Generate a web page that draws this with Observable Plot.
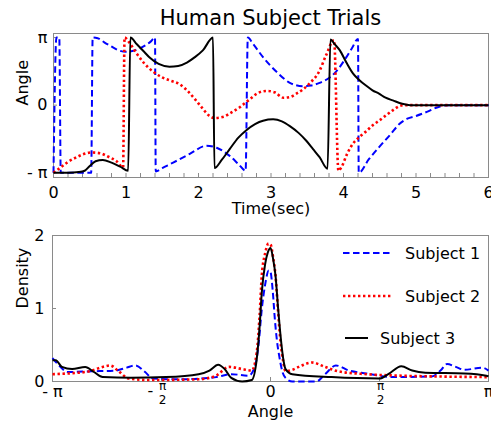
<!DOCTYPE html>
<html><head><meta charset="utf-8">
<script src="https://cdn.jsdelivr.net/npm/d3@7"></script>
<script src="https://cdn.jsdelivr.net/npm/@observablehq/plot@0.6"></script>
<style>
body{margin:0;background:#fff;font-family:"DejaVu Sans",sans-serif;}
#wrap{position:relative;width:491px;height:428px;overflow:hidden;}
#title{position:absolute;left:53px;width:435px;top:3px;text-align:center;font-size:21px;line-height:30px;color:#000;}
#top{position:absolute;left:0;top:0;}
#bot{position:absolute;left:0;top:220px;}
#leg{position:absolute;left:0;top:0;}
</style>
</head><body>
<div id="wrap"><div id="top"></div><div id="bot"></div><div id="title">Human Subject Trials</div><svg id="leg" width="491" height="428"></svg></div>
<script>
// ---- data (angles in units of π) ----
const seriesNames = ["Subject 1", "Subject 2", "Subject 3"];
const seriesColors = ["#0000ff", "#ff0000", "#000000"];

// Top panel: time (sec), angle/π
const subject1Trial = [[0.00,-1.0],[0.04,1.0],[0.08,1.0],[0.10,-1.0],[0.30,-1.0],[0.52,-1.0],[0.54,1.0],[0.61,0.99],[0.70,0.93],[0.78,0.88],[0.90,0.81],[1.00,0.79],[1.12,0.81],[1.26,0.88],[1.34,0.94],[1.40,1.0],[1.41,-0.98],[1.50,-0.93],[1.65,-0.85],[1.88,-0.72],[2.11,-0.60],[2.25,-0.63],[2.43,-0.75],[2.55,-0.87],[2.65,-0.97],[2.68,1.0],[2.75,0.91],[2.89,0.71],[3.08,0.49],[3.26,0.33],[3.44,0.28],[3.55,0.29],[3.67,0.33],[3.81,0.41],[3.90,0.50],[4.04,0.71],[4.12,0.85],[4.20,0.98],[4.21,-1.0],[4.35,-0.80],[4.50,-0.61],[4.65,-0.43],[4.77,-0.28],[4.88,-0.20],[5.00,-0.16],[5.15,-0.10],[5.30,-0.03],[5.45,0.0],[6.00,0.0]];
const subject2Trial = [[0.00,-1.0],[0.10,-0.92],[0.20,-0.84],[0.30,-0.78],[0.40,-0.73],[0.52,-0.70],[0.64,-0.71],[0.75,-0.76],[0.87,-0.83],[0.96,-0.92],[0.98,1.0],[1.05,0.92],[1.15,0.76],[1.25,0.62],[1.38,0.49],[1.50,0.41],[1.62,0.36],[1.74,0.31],[1.85,0.21],[1.95,0.09],[2.05,-0.04],[2.14,-0.15],[2.22,-0.19],[2.35,-0.17],[2.45,-0.11],[2.57,-0.03],[2.71,0.09],[2.82,0.18],[2.94,0.21],[3.05,0.19],[3.17,0.11],[3.26,0.12],[3.35,0.17],[3.45,0.24],[3.53,0.32],[3.67,0.51],[3.76,0.74],[3.87,0.96],[3.93,-0.97],[3.97,-0.92],[4.05,-0.72],[4.13,-0.57],[4.22,-0.47],[4.31,-0.39],[4.40,-0.30],[4.49,-0.23],[4.60,-0.14],[4.70,-0.06],[4.78,-0.01],[4.85,0.0],[6.00,0.0]];
const subject3Trial = [[0.00,-1.0],[0.20,-1.0],[0.35,-0.99],[0.43,-0.97],[0.50,-0.90],[0.58,-0.83],[0.68,-0.81],[0.80,-0.85],[0.92,-0.91],[1.03,-0.97],[1.06,1.0],[1.15,0.90],[1.25,0.79],[1.33,0.70],[1.45,0.61],[1.60,0.57],[1.72,0.58],[1.84,0.63],[1.95,0.71],[2.06,0.81],[2.20,1.0],[2.22,-0.93],[2.32,-0.81],[2.43,-0.65],[2.55,-0.48],[2.66,-0.37],[2.78,-0.28],[2.89,-0.23],[3.03,-0.21],[3.15,-0.24],[3.26,-0.31],[3.38,-0.41],[3.49,-0.53],[3.58,-0.65],[3.67,-0.77],[3.78,-0.94],[3.82,0.97],[3.88,0.90],[3.95,0.81],[4.04,0.63],[4.13,0.47],[4.22,0.37],[4.31,0.29],[4.40,0.22],[4.49,0.17],[4.58,0.11],[4.68,0.07],[4.81,0.02],[4.92,0.0],[6.00,0.0]];

// Bottom panel: angle/π, density
const subject1Density = [[-1.0,0.32],[-0.97,0.22],[-0.93,0.13],[-0.82,0.14],[-0.71,0.15],[-0.66,0.19],[-0.62,0.22],[-0.575,0.13],[-0.54,0.04],[-0.41,0.03],[-0.25,0.06],[-0.18,0.10],[-0.10,0.08],[-0.07,0.22],[-0.055,0.5],[-0.04,0.99],[-0.025,1.32],[-0.008,1.52],[0.0,1.50],[0.01,1.25],[0.02,0.85],[0.03,0.55],[0.04,0.35],[0.055,0.13],[0.069,0.05],[0.10,0.0],[0.21,0.0],[0.25,0.10],[0.30,0.22],[0.36,0.15],[0.44,0.11],[0.56,0.06],[0.74,0.07],[0.78,0.15],[0.81,0.24],[0.85,0.20],[0.89,0.16],[0.97,0.19],[1.0,0.15]];
const subject2Density = [[-1.0,0.10],[-0.93,0.11],[-0.83,0.14],[-0.77,0.20],[-0.735,0.22],[-0.70,0.15],[-0.65,0.04],[-0.56,0.02],[-0.33,0.03],[-0.25,0.08],[-0.19,0.20],[-0.13,0.17],[-0.086,0.15],[-0.063,0.40],[-0.05,0.90],[-0.04,1.45],[-0.025,1.75],[-0.009,1.89],[0.0,1.88],[0.012,1.70],[0.023,1.45],[0.035,0.95],[0.046,0.54],[0.058,0.28],[0.069,0.14],[0.10,0.16],[0.13,0.20],[0.19,0.26],[0.25,0.20],[0.31,0.14],[0.44,0.10],[0.59,0.08],[0.74,0.07],[1.0,0.06]];
const subject3Density = [[-1.0,0.29],[-0.985,0.29],[-0.957,0.20],[-0.91,0.17],[-0.85,0.20],[-0.81,0.13],[-0.77,0.06],[-0.64,0.05],[-0.48,0.06],[-0.33,0.10],[-0.28,0.15],[-0.24,0.23],[-0.21,0.17],[-0.18,0.05],[-0.13,0.0],[-0.086,0.02],[-0.063,0.31],[-0.05,0.75],[-0.04,1.22],[-0.025,1.60],[-0.012,1.77],[0.0,1.83],[0.012,1.68],[0.023,1.45],[0.035,1.00],[0.046,0.63],[0.058,0.32],[0.069,0.17],[0.10,0.10],[0.28,0.06],[0.50,0.04],[0.54,0.10],[0.60,0.21],[0.65,0.15],[0.71,0.12],[0.89,0.11],[0.99,0.08],[1.0,0.07]];

// Tick values / labels
const timeTicks = [0,1,2,3,4,5,6];
const timeMinorTicks = d3.range(1,30).map(i => i/5);
const angleTicks = [-1,0,1];
const angleTickLabels = ["- π","0","π"];
const densityTicks = [0,1,2];
const angleXTicks = [-1,0,1];
const angleXTickLabels = ["- π","0","π"];
const halfPiTicks = [-0.5,0.5];
const negHalfPi = [-0.5];

// ---- style ----
const dashes = ["6.5,3.5","2.4,2.6",null];
const widths = [2,2.6,2];
const font = "DejaVu Sans";
const frameGray = "#8a8a8a";

const toObj = arr => arr.map(([x,y]) => ({x,y}));
const trials = [subject1Trial, subject2Trial, subject3Trial];
const dens = [subject1Density, subject2Density, subject3Density];

const topPlot = Plot.plot({
  width:491, height:220, marginLeft:53, marginRight:3, marginTop:33, marginBottom:43,
  style:{fontFamily:font, fontSize:"16px", color:"#000", background:"transparent", overflow:"visible"},
  x:{domain:[0,6], label:null}, y:{domain:[-1.07,1.06], label:null},
  marks:[
    Plot.frame({stroke:frameGray}),
    Plot.tickX(timeMinorTicks, {x:d=>d, stroke:frameGray, insetTop:140}),
    Plot.tickY(angleTicks, {y:d=>d, stroke:frameGray, insetRight:431}),
    ...trials.map((s,i) => Plot.line(toObj(s), {x:"x", y:"y", stroke:seriesColors[i], strokeWidth:widths[i], strokeDasharray:dashes[i], curve:"monotone-x", strokeLinecap:"butt"})),
    Plot.axisX(timeTicks, {tickSize:0, tickPadding:9, fontSize:16, label:null, tickFormat:d=>String(d)}),
    Plot.axisY(angleTicks, {tickSize:0, tickPadding:6, fontSize:16, label:null, tickFormat:d=>angleTickLabels[angleTicks.indexOf(d)]}),
    Plot.text(["Time(sec)"], {frameAnchor:"bottom", dy:36, fontSize:16, text:d=>d}),
    Plot.text(["Angle"], {frameAnchor:"left", dx:-31, rotate:-90, fontSize:16, text:d=>d})
  ]
});
document.getElementById("top").appendChild(topPlot);

const botPlot = Plot.plot({
  width:491, height:208, marginLeft:52, marginRight:3, marginTop:15, marginBottom:47,
  style:{fontFamily:font, fontSize:"16px", color:"#000", background:"transparent", overflow:"visible"},
  x:{domain:[-1,1], label:null}, y:{domain:[0,2], label:null},
  marks:[
    Plot.frame({stroke:frameGray}),
    Plot.tickX([-0.5,0,0.5], {x:d=>d, stroke:frameGray, insetTop:142}),
    Plot.tickY([1], {y:d=>d, stroke:frameGray, insetRight:432}),
    ...dens.map((s,i) => Plot.line(toObj(s), {x:"x", y:"y", stroke:seriesColors[i], strokeWidth:widths[i], strokeDasharray:dashes[i], curve:"monotone-x", strokeLinecap:"butt"})),
    Plot.axisY(densityTicks, {tickSize:0, tickPadding:8, fontSize:16, label:null, tickFormat:d=>String(d)}),
    Plot.axisX(angleXTicks, {tickSize:0, tickPadding:4, fontSize:16, label:null, tickFormat:d=>angleXTickLabels[angleXTicks.indexOf(d)]}),
    Plot.text(halfPiTicks, {x:d=>d, frameAnchor:"bottom", dy:8, dx:1, fontSize:12, text:()=>"π", ariaLabel:"frac-num"}),
    Plot.text(halfPiTicks, {x:d=>d, frameAnchor:"bottom", dy:22, dx:1, fontSize:12, text:()=>"2"}),
    Plot.text(negHalfPi, {x:d=>d, frameAnchor:"bottom", dy:14, dx:-11, fontSize:16, text:()=>"-"}),
    Plot.text(["Angle"], {frameAnchor:"bottom", dy:35, fontSize:16, text:d=>d}),
    Plot.text(["Density"], {frameAnchor:"left", dx:-30, rotate:-90, fontSize:16, text:d=>d})
  ]
});
d3.select(botPlot).selectAll('g[aria-label="frac-num"] text').style("text-decoration","underline");
document.getElementById("bot").appendChild(botPlot);

// ---- legend ----
const leg = d3.select("#leg").style("font-family", font).style("font-size","16px");
const legRows = [
  {y:253, x1:343, x2:393, tx:405},
  {y:296, x1:343, x2:393, tx:405},
  {y:338, x1:345, x2:368, tx:380}
];
legRows.forEach((r,i) => {
  leg.append("line").attr("x1",r.x1).attr("x2",r.x2).attr("y1",r.y).attr("y2",r.y)
    .attr("stroke",seriesColors[i]).attr("stroke-width",widths[i]).attr("stroke-dasharray",dashes[i]);
  leg.append("text").attr("x",r.tx).attr("y",r.y).attr("dy","0.35em").attr("fill","#000").text(seriesNames[i]);
});
</script>
</body></html>
